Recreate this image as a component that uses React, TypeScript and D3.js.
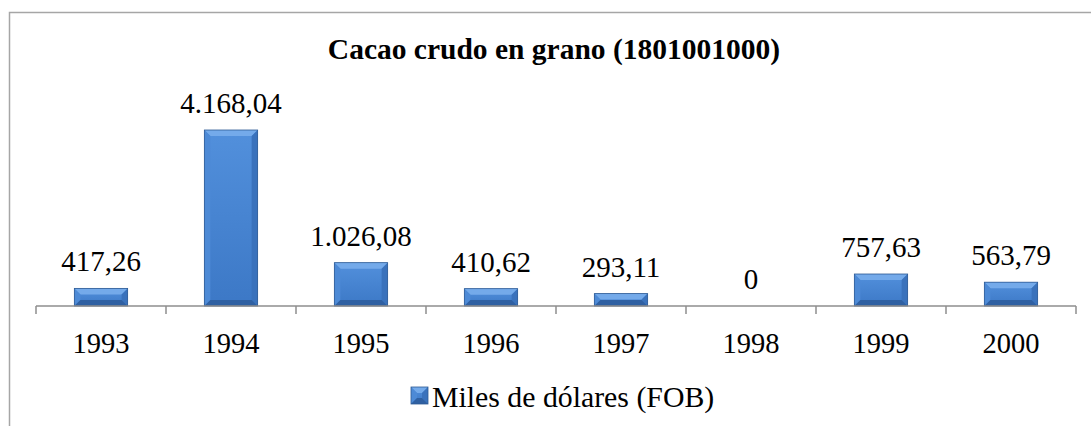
import React, { useEffect, useRef } from 'react';
import * as d3 from 'd3';

const years = ['1993', '1994', '1995', '1996', '1997', '1998', '1999', '2000'];
const values = [417.26, 4168.04, 1026.08, 410.62, 293.11, 0, 757.63, 563.79];
const valueLabels = ['417,26', '4.168,04', '1.026,08', '410,62', '293,11', '0', '757,63', '563,79'];
const seriesName = 'Miles de dólares (FOB)';
const title = 'Cacao crudo en grano (1801001000)';

const W = 1091;
const H = 426;
const FONT = 'Liberation Serif, Times New Roman, serif';

// draws a bevelled bar like the office 3d style
function bevelBar(g: any, x: number, y: number, w: number, h: number) {
  const b = Math.min(6, h / 2, w / 2);
  g.append('rect')
    .attr('x', x).attr('y', y).attr('width', w).attr('height', h)
    .attr('fill', 'url(#barGrad)');
  // top facet
  g.append('polygon')
    .attr('points', `${x},${y} ${x + w},${y} ${x + w - b},${y + b} ${x + b},${y + b}`)
    .attr('fill', '#74aaea');
  // left facet
  g.append('polygon')
    .attr('points', `${x},${y} ${x + b},${y + b} ${x + b},${y + h - b} ${x},${y + h}`)
    .attr('fill', '#4d8ad6');
  // right facet
  g.append('polygon')
    .attr('points', `${x + w},${y} ${x + w - b},${y + b} ${x + w - b},${y + h - b} ${x + w},${y + h}`)
    .attr('fill', '#3a72bc');
  // bottom facet
  g.append('polygon')
    .attr('points', `${x},${y + h} ${x + b},${y + h - b} ${x + w - b},${y + h - b} ${x + w},${y + h}`)
    .attr('fill', '#2f60a2');
  g.append('rect')
    .attr('x', x).attr('y', y).attr('width', w).attr('height', h)
    .attr('fill', 'none').attr('stroke', '#2d5a94').attr('stroke-width', 0.8);
}

const App = () => {
  const svgRef = useRef<SVGSVGElement>(null);

  useEffect(() => {
    const svg = d3.select(svgRef.current);
    svg.selectAll('*').remove();

    const defs = svg.append('defs');
    const grad = defs.append('linearGradient')
      .attr('id', 'barGrad').attr('x1', 0).attr('y1', 0).attr('x2', 0).attr('y2', 1);
    grad.append('stop').attr('offset', '0%').attr('stop-color', '#5290dc');
    grad.append('stop').attr('offset', '100%').attr('stop-color', '#3c78c6');

    // frame
    svg.append('rect')
      .attr('x', 9.5).attr('y', 12.5).attr('width', W + 20).attr('height', H + 20)
      .attr('fill', 'white').attr('stroke', '#a6a6a6').attr('stroke-width', 1.5);

    const x = d3.scaleBand()
      .domain(years)
      .range([36, 1076])
      .paddingInner(0.59)
      .paddingOuter(0.295);

    const y = d3.scaleLinear()
      .domain([0, d3.max(values) as number])
      .range([306, 130]);

    svg.append('text')
      .attr('x', 554).attr('y', 59)
      .attr('text-anchor', 'middle')
      .attr('font-family', FONT).attr('font-size', 29.5).attr('font-weight', 'bold')
      .text(title);

    const bars = svg.append('g');
    years.forEach((yr, i) => {
      const v = values[i];
      if (v > 0) {
        bevelBar(bars, x(yr) as number, y(v), x.bandwidth(), y(0) - y(v));
      }
    });

    // value labels
    svg.append('g').selectAll('text')
      .data(years)
      .enter()
      .append('text')
      .attr('x', d => (x(d) as number) + x.bandwidth() / 2)
      .attr('y', (d, i) => y(values[i]) - 17)
      .attr('text-anchor', 'middle')
      .attr('font-family', FONT).attr('font-size', 29)
      .text((d, i) => valueLabels[i]);

    // axis
    const step = x.step();
    const gap = (step - x.bandwidth()) / 2;
    const ax = svg.append('g');
    ax.append('line')
      .attr('x1', 36).attr('x2', 1076).attr('y1', y(0)).attr('y2', y(0))
      .attr('stroke', '#8e8e8e').attr('stroke-width', 1.5);
    const bounds = years.map(d => (x(d) as number) - gap).concat([(x(years[years.length - 1]) as number) + x.bandwidth() + gap]);
    ax.selectAll('.tick')
      .data(bounds)
      .enter()
      .append('line')
      .attr('x1', d => d).attr('x2', d => d)
      .attr('y1', y(0)).attr('y2', y(0) + 8)
      .attr('stroke', '#8e8e8e').attr('stroke-width', 1.5);

    ax.selectAll('.lbl')
      .data(years)
      .enter()
      .append('text')
      .attr('x', d => (x(d) as number) + x.bandwidth() / 2)
      .attr('y', 353)
      .attr('text-anchor', 'middle')
      .attr('font-family', FONT).attr('font-size', 28.5)
      .text(d => d);

    // legend
    const lg = svg.append('g');
    bevelBar(lg, 411, 387, 17, 17);
    lg.append('text')
      .attr('x', 432).attr('y', 407)
      .attr('font-family', FONT).attr('font-size', 29.8)
      .text(seriesName);
  }, []);

  return (
    <svg ref={svgRef} width={W} height={H} style={{ position: 'absolute', left: 0, top: 0, background: 'white' }}>
    </svg>
  );
};

export default App;
